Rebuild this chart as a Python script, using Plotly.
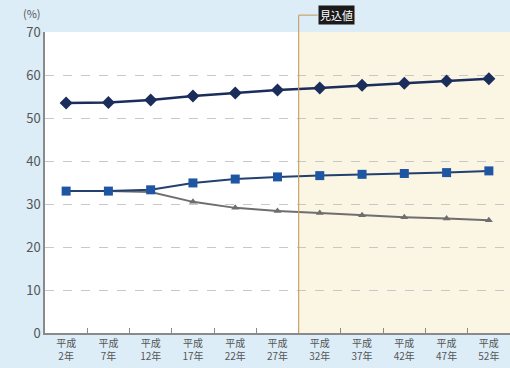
import plotly.graph_objects as go

# 年次ラベル
nendo = ["平成<br>2年", "平成<br>7年", "平成<br>12年", "平成<br>17年", "平成<br>22年",
         "平成<br>27年", "平成<br>32年", "平成<br>37年", "平成<br>42年", "平成<br>47年",
         "平成<br>52年"]

# 系列データ (%)
serie_rombo = [53.5, 53.6, 54.2, 55.1, 55.8, 56.5, 57.0, 57.6, 58.1, 58.6, 59.1]
serie_quadrato = [33.0, 33.0, 33.3, 34.9, 35.8, 36.3, 36.6, 36.9, 37.1, 37.3, 37.7]
serie_triangolo = [33.0, 33.0, 32.8, 30.5, 29.1, 28.4, 27.9, 27.4, 26.9, 26.6, 26.2]

fig = go.Figure()

fig.add_trace(go.Scatter(x=nendo, y=serie_triangolo, mode="lines+markers",
                         line=dict(color="#6e6e6e", width=2),
                         marker=dict(symbol="triangle-up", size=7, color="#6e6e6e")))
fig.add_trace(go.Scatter(x=nendo, y=serie_quadrato, mode="lines+markers",
                         line=dict(color="#23406e", width=2),
                         marker=dict(symbol="square", size=9, color="#1f56a3")))
fig.add_trace(go.Scatter(x=nendo, y=serie_rombo, mode="lines+markers",
                         line=dict(color="#1b2d5a", width=2.5),
                         marker=dict(symbol="diamond", size=10, color="#1b2d5a")))

# 見込値の領域
fig.add_shape(type="rect", xref="x", yref="paper", x0=5.5, x1=10.5, y0=0, y1=1,
              fillcolor="#fbf5e3", line_width=0, layer="below")
fig.add_shape(type="line", xref="x", yref="paper", x0=5.5, x1=5.5, y0=0, y1=1.056,
              line=dict(color="#c8a46a", width=1.2))
fig.add_shape(type="line", xref="x", yref="paper", x0=5.5, x1=5.95, y0=1.056, y1=1.056,
              line=dict(color="#c8a46a", width=1.2))
fig.add_annotation(text="見込値", xref="x", yref="paper", x=5.95, y=1.056,
                   xanchor="left", yanchor="middle", showarrow=False,
                   font=dict(color="white", size=11, family="Noto Sans CJK JP"),
                   bgcolor="#1a1a1a", borderpad=1)
fig.add_annotation(text="(%)", xref="paper", yref="paper", x=-0.005, y=1.03,
                   xanchor="right", yanchor="bottom", showarrow=False,
                   font=dict(color="#555555", size=11, family="Noto Sans CJK JP"))

fig.update_layout(width=510, height=368, showlegend=False,
                  margin=dict(l=45, r=0, t=32, b=35),
                  paper_bgcolor="#dcedf8", plot_bgcolor="white",
                  font=dict(family="Noto Sans CJK JP", size=11, color="#555555"))
fig.update_xaxes(type="category", range=[-0.5, 10.5], showgrid=False, automargin=False,
                 showline=True, linecolor="#8a8a8a", linewidth=1.5,
                 ticks="inside", tickson="boundaries", ticklen=5, tickcolor="#8a8a8a",
                 tickfont=dict(size=10, color="#555555"))
fig.update_yaxes(range=[0, 70], dtick=10, showline=True, linecolor="#8a8a8a",
                 linewidth=1.5, gridcolor="#c8c8c8", griddash="dash", zeroline=False,
                 automargin=False, tickfont=dict(size=13, color="#555555"))

# ページの余白を消す
fig.write_html("out.html", config={"displayModeBar": False},
               post_script="document.body.style.margin='0';"
                           "document.body.style.background='#dcedf8';")
